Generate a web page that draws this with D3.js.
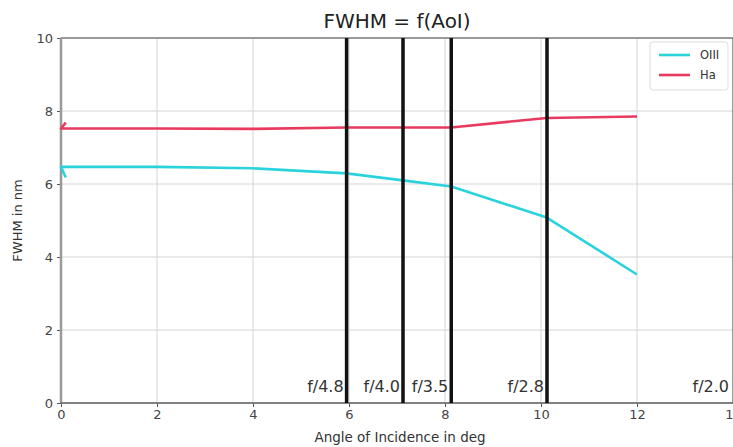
<!DOCTYPE html>
<html><head><meta charset="utf-8">
<script src="https://cdn.jsdelivr.net/npm/d3@7"></script>
<style>body{margin:0;background:#fff;}svg{display:block;font-family:"DejaVu Sans",sans-serif;}</style>
</head><body><svg id="c" width="733" height="447"></svg>
<script>
const xTicks = [0, 2, 4, 6, 8, 10, 12, 14];
const yTicks = [0, 2, 4, 6, 8, 10];
const angles = [0.1, 0, 2, 4, 5.95, 7.12, 8.13, 10.12, 12];
const oiii   = [6.18, 6.47, 6.47, 6.43, 6.29, 6.1, 5.93, 5.08, 3.52];
const halpha = [7.68, 7.52, 7.52, 7.51, 7.55, 7.55, 7.55, 7.81, 7.85];
const apertureLabels = ["f/4.8", "f/4.0", "f/3.5", "f/2.8", "f/2.0"];
const apertureAngles = [5.95, 7.125, 8.13, 10.125, 14.04];
const seriesNames = ["OIII", "Ha"];
const seriesColors = ["#2ad3dc", "#e83a5f"];

const svg = d3.select("#c");
const m = {l: 61, r: 733, t: 38, b: 403};
const x = d3.scaleLinear().domain([0, 14]).range([m.l, m.r]);
const y = d3.scaleLinear().domain([0, 10]).range([m.b, m.t]);

// grid
svg.append("g").selectAll("line").data(xTicks).join("line")
  .attr("x1", d => x(d)).attr("x2", d => x(d)).attr("y1", m.t).attr("y2", m.b)
  .attr("stroke", "#d4d4d4").attr("stroke-width", 1);
svg.append("g").selectAll("line").data(yTicks).join("line")
  .attr("x1", m.l).attr("x2", m.r).attr("y1", d => y(d)).attr("y2", d => y(d))
  .attr("stroke", "#d4d4d4").attr("stroke-width", 1);

// axes
const xa = svg.append("g").attr("transform", `translate(0,${m.b})`)
  .call(d3.axisBottom(x).tickValues(xTicks).tickSize(4).tickPadding(3).tickFormat(d3.format("d")));
const ya = svg.append("g").attr("transform", `translate(${m.l},0)`)
  .call(d3.axisLeft(y).tickValues(yTicks).tickSize(4).tickPadding(4).tickFormat(d3.format("d")));
[xa, ya].forEach(a => {
  a.select(".domain").remove();
  a.selectAll("line").attr("stroke", "#555");
  a.selectAll("text").attr("fill", "#444").style("font-size", "13px").style("font-family", "DejaVu Sans");
});
// spines
svg.append("rect").attr("x", m.l).attr("y", m.t).attr("width", m.r - m.l).attr("height", m.b - m.t)
  .attr("fill", "none").attr("stroke", "#666").attr("stroke-width", 1.2);
svg.append("line").attr("x1", m.l).attr("x2", m.l).attr("y1", m.t).attr("y2", m.b)
  .attr("stroke", "#999").attr("stroke-width", 2.5);
svg.append("line").attr("x1", m.l).attr("x2", m.r).attr("y1", m.b).attr("y2", m.b)
  .attr("stroke", "#777").attr("stroke-width", 1.5);

// series
const line = d3.line().x(d => x(d[0])).y(d => y(d[1]));
[oiii, halpha].forEach((vals, i) => {
  svg.append("path").datum(angles.map((a, k) => [a, vals[k]]))
    .attr("d", line).attr("fill", "none").attr("stroke", seriesColors[i])
    .attr("stroke-width", 2.6).attr("stroke-linejoin", "round");
});

// aperture lines
svg.append("g").selectAll("line").data(apertureAngles).join("line")
  .attr("x1", d => x(d)).attr("x2", d => x(d)).attr("y1", m.t).attr("y2", m.b)
  .attr("stroke", "#111").attr("stroke-width", 3.5);
svg.append("g").selectAll("text").data(apertureLabels).join("text")
  .attr("x", (d, i) => Math.min(x(apertureAngles[i]) - 3, 729)).attr("y", 392)
  .attr("text-anchor", "end").attr("fill", "#333").style("font-size", "16px")
  .text(d => d);

// title & labels
svg.append("text").attr("x", (m.l + m.r) / 2).attr("y", 28).attr("text-anchor", "middle")
  .style("font-size", "20px").attr("fill", "#222").text("FWHM = f(AoI)");
svg.append("text").attr("x", (m.l + m.r) / 2 + 3).attr("y", 442).attr("text-anchor", "middle")
  .style("font-size", "13.5px").attr("fill", "#333").text("Angle of Incidence in deg");
svg.append("text").attr("transform", `translate(22,${(m.t + m.b) / 2}) rotate(-90)`)
  .attr("text-anchor", "middle").style("font-size", "13px").attr("fill", "#333").text("FWHM in nm");

// legend
const lg = svg.append("g");
lg.append("rect").attr("x", 650).attr("y", 42).attr("width", 78).attr("height", 48).attr("rx", 3)
  .attr("fill", "#fff").attr("fill-opacity", 0.85).attr("stroke", "#ddd");
seriesNames.forEach((n, i) => {
  const yy = 55 + i * 20;
  lg.append("line").attr("x1", 659).attr("x2", 690).attr("y1", yy).attr("y2", yy)
    .attr("stroke", seriesColors[i]).attr("stroke-width", 2.6);
  lg.append("text").attr("x", 700).attr("y", yy + 4).style("font-size", "11.5px").attr("fill", "#333").text(n);
});
</script></body></html>
